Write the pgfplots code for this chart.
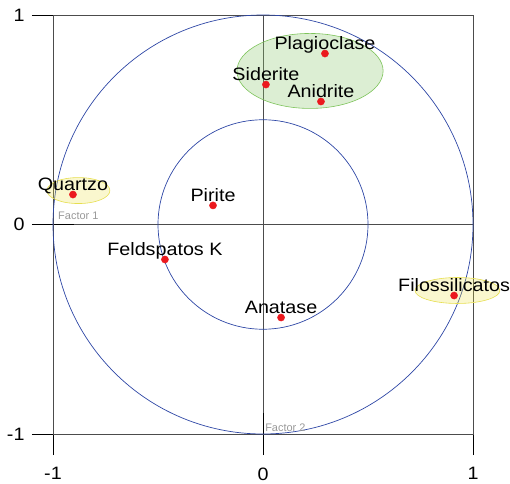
\documentclass[border=0pt]{standalone}
\usepackage{pgfplots}
\pgfplotsset{compat=1.18}
\usepackage{fontspec}
\setmainfont{Liberation Sans}
\newfontfamily\labfont[FakeStretch=1.1]{Liberation Sans}
\definecolor{circblue}{RGB}{45,70,165}
\definecolor{dotred}{RGB}{235,25,30}
\definecolor{ellgreen}{RGB}{125,195,90}
\definecolor{ellgreenfill}{RGB}{140,200,110}
\definecolor{ellyellow}{RGB}{230,222,80}
\definecolor{ellyellowfill}{RGB}{235,225,60}
\begin{document}
\begin{tikzpicture}
\useasboundingbox (-53bp,-50bp) rectangle (457bp,434bp);
\begin{axis}[
  at={(0,0)}, anchor=south west,
  scale only axis, width=420bp, height=419bp,
  xmin=-1, xmax=1, ymin=-1, ymax=1,
  xtick={-1,0,1}, ytick={-1,0,1},
  xtick pos=left, ytick pos=left,
  tick align=center, major tick length=42bp,
  grid=major, grid style={black!70, line width=0.6pt},
  axis line style={black!70, line width=0.6pt},
  tick style={black, line width=0.8pt},
  ticklabel style={font=\labfont\fontsize{18}{20}\selectfont},
  xticklabel style={yshift=-9bp},
  yticklabel style={xshift=-4bp},
  /pgf/number format/assume math mode=true,
  clip=false,
]
\draw[circblue, line width=0.7pt] (axis cs:0,0) circle [radius=1];
\draw[circblue, line width=0.7pt] (axis cs:0,0) circle [radius=0.5];
\draw[ellgreen, line width=0.6pt, fill=ellgreenfill, fill opacity=0.3] (axis cs:0.224,0.733) ellipse [x radius=0.348, y radius=0.179];
\draw[ellyellow, line width=0.6pt, fill=ellyellowfill, fill opacity=0.25] (axis cs:-0.879,0.162) ellipse [x radius=0.15, y radius=0.062];
\draw[ellyellow, line width=0.6pt, fill=ellyellowfill, fill opacity=0.25] (axis cs:0.926,-0.315) ellipse [x radius=0.202, y radius=0.062];
\addplot[only marks, mark=*, mark size=3.6pt, color=dotred,
  nodes near coords, point meta=explicit symbolic,
  nodes near coords style={font=\labfont\fontsize{18}{20}\selectfont, anchor=base, yshift=4bp, text=black, inner sep=0pt}]
  table[col sep=comma, meta=label] {
x,y,label
0.295,0.816,Plagioclase
0.014,0.668,Siderite
0.276,0.587,Anidrite
-0.905,0.143,Quartzo
-0.238,0.091,Pirite
-0.467,-0.167,Feldspatos K
0.086,-0.444,Anatase
0.910,-0.339,Filossilicatos
};
\node[anchor=base west, text=black!40, font=\fontsize{11}{12}\selectfont, inner sep=0pt] at (axis cs:-0.976,0.024) {Factor 1};
\node[anchor=base west, text=black!40, font=\fontsize{11}{12}\selectfont, inner sep=0pt] at (axis cs:0.01,-0.988) {Factor 2};
\end{axis}
\end{tikzpicture}
\end{document}
